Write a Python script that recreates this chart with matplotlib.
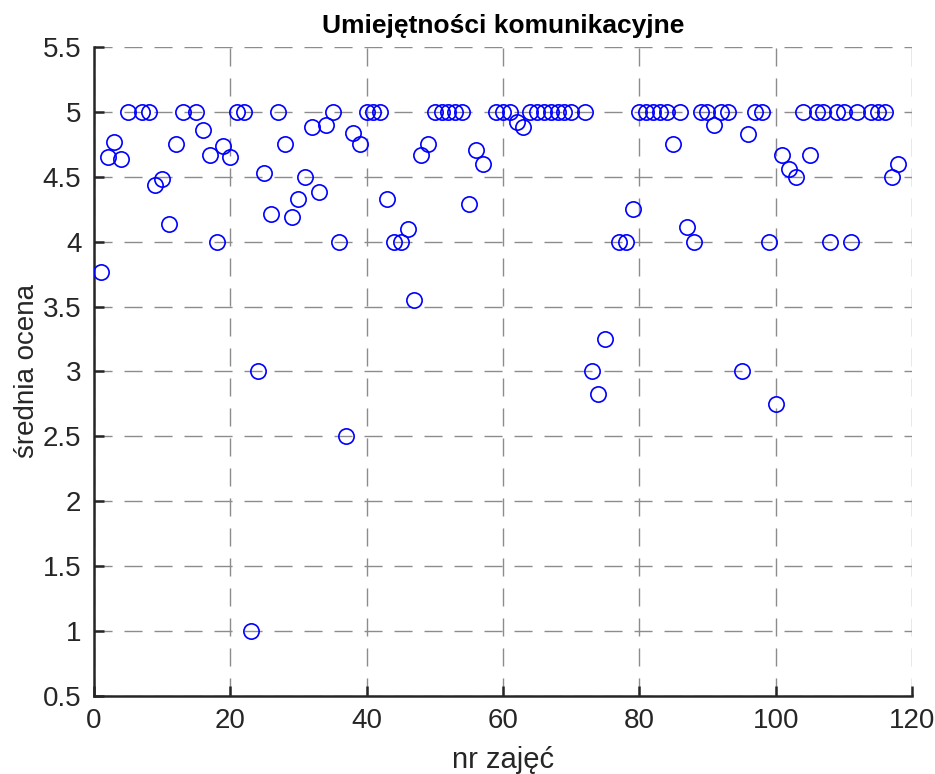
import numpy as np
import matplotlib
matplotlib.use('Agg')
import matplotlib.pyplot as plt

plt.rcParams['font.family'] = ['Liberation Sans', 'DejaVu Sans']

# nr zajec / srednia ocena
nr_zajec = [1, 2, 3, 4, 5, 7, 8, 9, 10, 11, 12, 13, 15, 16, 17, 18, 19, 20,
            21, 22, 23, 24, 25, 26, 27, 28, 29, 30, 31, 32, 33, 34, 35, 36,
            37, 38, 39, 40, 41, 42, 43, 44, 45, 46, 47, 48, 49, 50, 51, 52,
            53, 54, 55, 56, 57, 59, 60, 61, 62, 63, 64, 65, 66, 67, 68, 69,
            70, 72, 73, 74, 75, 77, 78, 79, 80, 81, 82, 83, 84, 85, 86, 87,
            88, 89, 90, 91, 92, 93, 95, 96, 97, 98, 99, 100, 101, 102, 103,
            104, 105, 106, 107, 108, 109, 110, 111, 112, 114, 115, 116, 117,
            118]
srednia = [3.77, 4.65, 4.77, 4.64, 5, 5, 5, 4.44, 4.48, 4.14, 4.75, 5, 5,
           4.86, 4.67, 4.0, 4.74, 4.65, 5, 5, 1.0, 3.0, 4.53, 4.21, 5, 4.75,
           4.19, 4.33, 4.5, 4.88, 4.38, 4.9, 5, 4.0, 2.5, 4.84, 4.75, 5, 5,
           5, 4.33, 4.0, 4.0, 4.1, 3.55, 4.67, 4.75, 5, 5, 5, 5, 5, 4.29,
           4.71, 4.6, 5, 5, 5, 4.92, 4.88, 5, 5, 5, 5, 5, 5, 5, 5, 3.0, 2.83,
           3.25, 4.0, 4.0, 4.25, 5, 5, 5, 5, 5, 4.75, 5, 4.11, 4.0, 5, 5,
           4.9, 5, 5, 3.0, 4.83, 5, 5, 4.0, 2.75, 4.67, 4.56, 4.5, 5, 4.67,
           5, 5, 4.0, 5, 5, 4.0, 5, 5, 5, 5, 4.5, 4.6]

xticks = np.arange(0, 121, 20)
yticks = np.arange(0.5, 5.51, 0.5)

fig = plt.figure(figsize=(9.35, 7.74), dpi=100)
ax = fig.add_axes([0.1005, 0.1008, 0.8749, 0.8385])

ax.plot(nr_zajec, srednia, 'o', mfc='none', mec='blue', ms=11, mew=1.2,
        linestyle='none', zorder=3)

ax.set_xlim(0, 120)
ax.set_ylim(0.5, 5.5)
ax.set_xticks(xticks)
ax.set_yticks(yticks)
ax.set_yticklabels(['%g' % v for v in yticks])

ax.grid(True, color='#8c8c8c', linewidth=1.0, linestyle=(0, (13, 8.6)))
ax.set_axisbelow(True)

for s in ['top', 'right']:
    ax.spines[s].set_visible(False)
for s in ['left', 'bottom']:
    ax.spines[s].set_linewidth(1.8)
    ax.spines[s].set_color('#262626')

ax.tick_params(direction='in', length=7, width=1.8, labelsize=20,
               colors='#262626', pad=9)

ax.set_xlabel('nr zajęć', fontsize=21, color='#262626', labelpad=8)
ax.set_ylabel('średnia ocena', fontsize=20, color='#262626', labelpad=2)
ax.set_title('Umiejętności komunikacyjne', fontsize=19, fontweight='bold',
             pad=10)

fig.savefig('out.png', dpi=100)
